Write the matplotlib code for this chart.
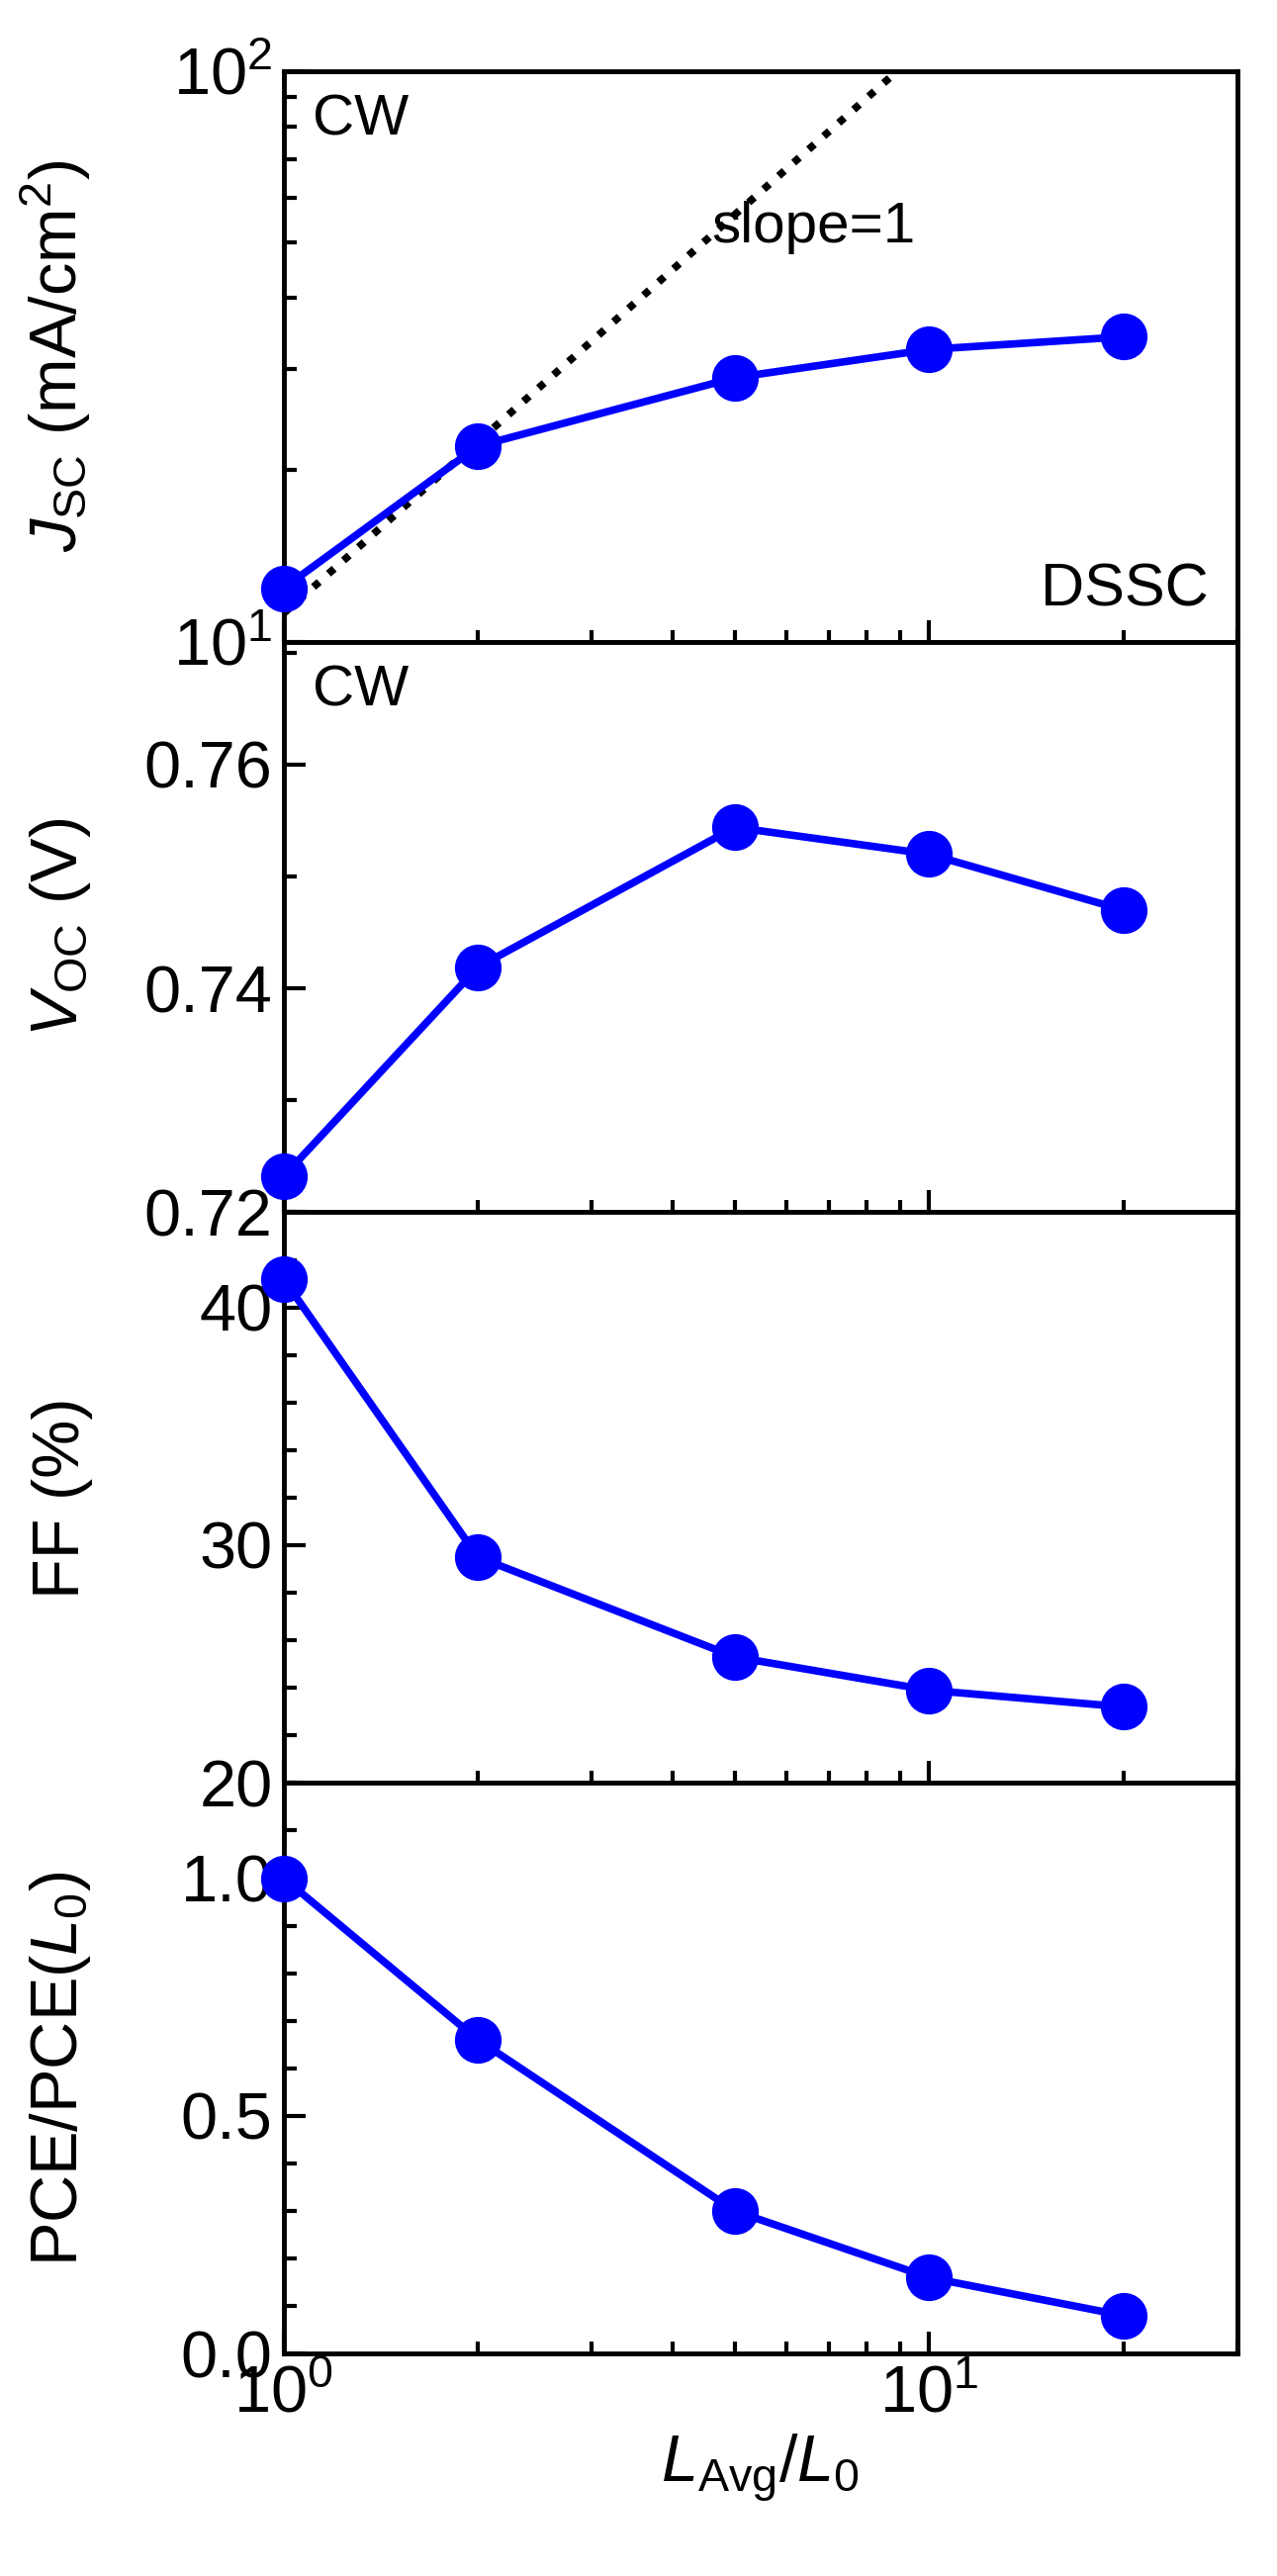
import matplotlib.pyplot as plt
from matplotlib.ticker import MultipleLocator, LogLocator, NullFormatter

plt.rcParams['font.family'] = ['Liberation Sans', 'DejaVu Sans']
plt.rcParams['mathtext.fontset'] = 'custom'
plt.rcParams['mathtext.rm'] = 'Liberation Sans'
plt.rcParams['mathtext.it'] = 'Liberation Sans:italic'

# data
L_ratio = [1, 2, 5, 10, 20]
jsc = [12.4, 22.0, 29.0, 32.5, 34.2]
voc = [0.7232, 0.7419, 0.7544, 0.7520, 0.7470]
ff = [41.2, 29.5, 25.3, 23.9, 23.2]
pce = [1.0, 0.66, 0.30, 0.16, 0.08]
slope_x = [1, 8.93]
slope_y = [11.2, 100]

blue = '#0000ff'
fs = 48

fig = plt.figure(figsize=(12.91, 26.04), dpi=100)
left, right, top, bottom = 0.222, 0.969, 0.9725, 0.0863
h = (top - bottom) / 4
axes = [fig.add_axes([left, top - (i + 1) * h, right - left, h]) for i in range(4)]

for ax, y in zip(axes, [jsc, voc, ff, pce]):
    ax.plot(L_ratio, y, '-o', color=blue, lw=5.5, ms=33, clip_on=False, zorder=3)
    ax.set_xscale('log')
    ax.set_xlim(1, 30)
    for s in ax.spines.values():
        s.set_linewidth(3.5)
    ax.tick_params(which='both', direction='in', width=3, labelsize=fs,
                   top=False, right=False, pad=8)
    ax.tick_params(which='major', length=16)
    ax.tick_params(which='minor', length=9)

ax1, ax2, ax3, ax4 = axes
for ax in axes[:3]:
    ax.tick_params(labelbottom=False)

# Jsc panel
ax1.plot(slope_x, slope_y, ':', color='black', lw=5.5, zorder=2)
ax1.set_yscale('log')
ax1.set_ylim(10, 100)
ax1.yaxis.set_major_locator(LogLocator(base=10))
ax1.yaxis.set_minor_locator(LogLocator(base=10, subs=range(2, 10)))
ax1.yaxis.set_minor_formatter(NullFormatter())
ax1.set_ylabel(r'$\mathit{J}_{\rm SC}$ (mA/cm$^2$)', fontsize=fs)
ax1.text(0.03, 0.96, 'CW', transform=ax1.transAxes, fontsize=42, va='top')
ax1.text(4.6, 50, 'slope=1', fontsize=42)
ax1.text(0.97, 0.04, 'DSSC', transform=ax1.transAxes, fontsize=44, ha='right', va='bottom')

# Voc panel
ax2.set_ylim(0.72, 0.771)
ax2.yaxis.set_major_locator(MultipleLocator(0.02))
ax2.yaxis.set_minor_locator(MultipleLocator(0.01))
ax2.yaxis.set_major_formatter(plt.FuncFormatter(lambda v, p: f'{v:.2f}'))
ax2.set_ylabel(r'$\mathit{V}_{\rm OC}$ (V)', fontsize=fs)
ax2.text(0.03, 0.96, 'CW', transform=ax2.transAxes, fontsize=42, va='top')

# FF panel
ax3.set_ylim(20, 44)
ax3.yaxis.set_major_locator(MultipleLocator(10))
ax3.yaxis.set_minor_locator(MultipleLocator(2))
ax3.set_ylabel('FF (%)', fontsize=fs)

# PCE panel
ax4.set_ylim(0, 1.2)
ax4.yaxis.set_major_locator(MultipleLocator(0.5))
ax4.yaxis.set_minor_locator(MultipleLocator(0.1))
ax4.yaxis.set_major_formatter(plt.FuncFormatter(lambda v, p: f'{v:.1f}'))
ax4.set_ylabel(r'PCE/PCE($\mathit{L}_0$)', fontsize=fs)
ax4.set_xlabel(r'$\mathit{L}_{\rm Avg}/\mathit{L}_0$', fontsize=fs)

for ax in axes:
    ax.yaxis.set_label_coords(-0.2, 0.5)

fig.savefig('out.png', dpi=100)
